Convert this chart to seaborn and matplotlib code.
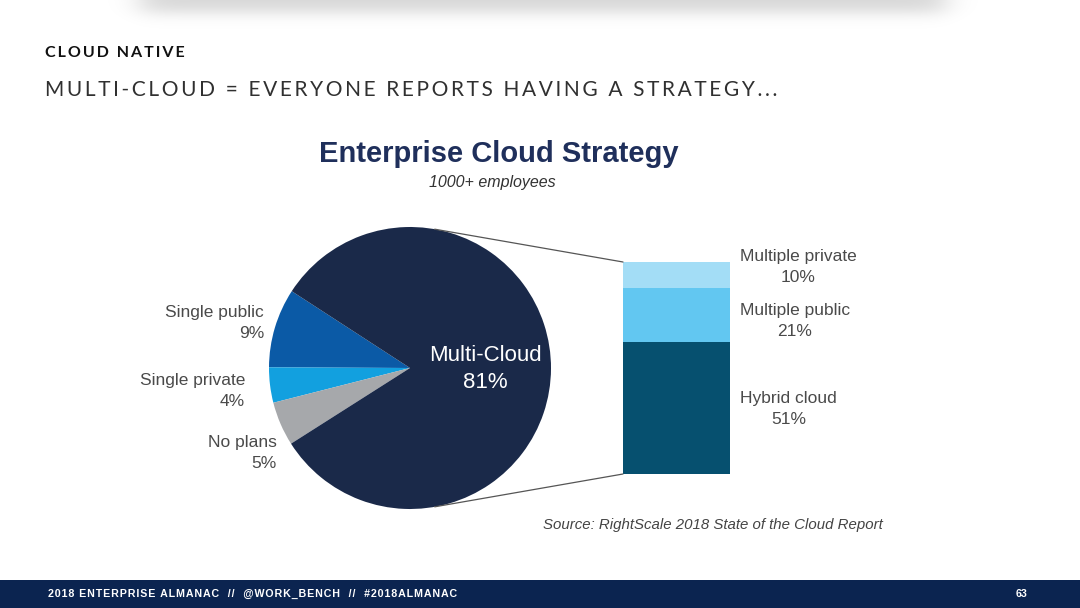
import numpy as np
import matplotlib
matplotlib.use("Agg")
import matplotlib.pyplot as plt
from matplotlib.patches import ConnectionPatch, Rectangle
import seaborn as sns

# Data
pie_labels = ["Single public", "Single private", "No plans", "Multi-Cloud"]
pie_values = [9, 4, 5, 81]
pie_colors = ["#0b5aa6", "#12a0df", "#a6a8ab", "#1a2949"]

bar_labels = ["Hybrid cloud", "Multiple public", "Multiple private"]
bar_values = [51, 21, 10]
bar_colors = ["#06506f", "#62c7f1", "#a3ddf6"]

W, H = 1080, 608

sns.set_theme(style="white")
plt.rcParams["font.family"] = ["Liberation Sans", "DejaVu Sans"]


def px(x, y):
    return x / W, 1 - y / H


fig = plt.figure(figsize=(W / 100, H / 100), dpi=100)
fig.patch.set_facecolor("white")

# soft shadow of the card at the top of the slide
axs = fig.add_axes([0, 1 - 40 / H, 1, 40 / H])
xx = np.arange(W)[None, :]
yy = np.arange(40)[:, None]
sx = 0.5 * (1 + np.tanh((xx - 140) / 18)) * 0.5 * (1 - np.tanh((xx - 945) / 18))
sy = 0.5 * (1 - np.tanh((yy - 12) / 9))
shadow = np.zeros((40, W, 4))
shadow[..., 3] = 0.16 * sx * sy
axs.imshow(shadow, aspect="auto", extent=(0, W, 40, 0), interpolation="bilinear")
axs.axis("off")

# headings
fig.text(*px(45, 53), "\u2009".join("CLOUD NATIVE"),
         fontsize=11.5, fontweight="bold", color="#111111", va="center", ha="left",
         family=["Lato", "DejaVu Sans"])
sub = "MULTI-CLOUD = EVERYONE REPORTS HAVING A STRATEGY..."
fig.text(*px(45, 90), "\u2009".join(sub), fontsize=15, color="#303030",
         va="center", ha="left", family=["Lato", "DejaVu Sans"])

# chart title
fig.text(*px(499, 154), "Enterprise Cloud Strategy", fontsize=21, fontweight="bold",
         color="#1f2f5b", ha="center", va="center")
fig.text(*px(492, 183), "1000+ employees", fontsize=11.5, style="italic",
         color="#333333", ha="center", va="center")

# pie
cx, cy, r = 410, 368, 141
axp = fig.add_axes([(cx - r) / W, 1 - (cy + r) / H, 2 * r / W, 2 * r / H])
axp.pie(pie_values, colors=pie_colors, startangle=147, counterclock=True,
        wedgeprops=dict(linewidth=0))
axp.set_xlim(-1, 1)
axp.set_ylim(-1, 1)
axp.set_aspect("equal")
axp.axis("off")

lab_color = "#4a4a4a"
ls = 1.45
fig.text(*px(264, 323), f"{pie_labels[0]}\n{pie_values[0]}%", fontsize=12.5, color=lab_color,
         ha="right", va="center", multialignment="right", linespacing=ls)
fig.text(*px(245, 391), f"{pie_labels[1]}\n{pie_values[1]}%", fontsize=12.5, color=lab_color,
         ha="right", va="center", multialignment="right", linespacing=ls)
fig.text(*px(277, 453), f"{pie_labels[2]}\n{pie_values[2]}%", fontsize=12.5, color=lab_color,
         ha="right", va="center", multialignment="right", linespacing=ls)
fig.text(*px(485, 369), f"{pie_labels[3]}\n{pie_values[3]}%", fontsize=16, color="white",
         ha="center", va="center", multialignment="center", linespacing=1.35)

# stacked bar
bx0, bx1, by_top, by_bot = 623, 730, 262, 474
axb = fig.add_axes([bx0 / W, 1 - by_bot / H, (bx1 - bx0) / W, (by_bot - by_top) / H])
cum = np.cumsum(bar_values)
for v, c in zip(cum[::-1], bar_colors[::-1]):
    sns.barplot(x=["multi"], y=[v], color=c, saturation=1, width=1, linewidth=0, ax=axb)
axb.set_xlim(-0.5, 0.5)
axb.set_ylim(0, cum[-1])
axb.axis("off")

bar_label_y = [409, 321, 267]
for lab, v, yv in zip(bar_labels, bar_values, bar_label_y):
    fig.text(*px(740, yv), f"{lab}\n{v}%", fontsize=12.5, color=lab_color,
             ha="left", va="center", multialignment="center", linespacing=ls)

# connector lines
for ang, yb in [(79.9, cum[-1]), (-79.9, 0)]:
    a = np.deg2rad(ang)
    con = ConnectionPatch(xyA=(np.cos(a), np.sin(a)), coordsA=axp.transData,
                          xyB=(-0.5, yb), coordsB=axb.transData,
                          color="#555555", lw=0.9)
    fig.add_artist(con)

fig.text(*px(883, 525), "Source: RightScale 2018 State of the Cloud Report", fontsize=10.8,
         style="italic", color="#444444", ha="right", va="center")

# footer
fig.patches.append(Rectangle((0, 0), 1, 28 / H, transform=fig.transFigure,
                             fc="#0b2450", ec="none", zorder=1))
foot = "2018 ENTERPRISE ALMANAC  //  @WORK_BENCH  //  #2018ALMANAC"
fig.text(*px(48, 594), "\u200a".join(foot), fontsize=7.7, fontweight="bold", color="white",
         ha="left", va="center", zorder=2)
fig.text(*px(1027, 594), "63", fontsize=7.7, fontweight="bold", color="white",
         ha="right", va="center", zorder=2)

fig.savefig("out.png", dpi=100)
